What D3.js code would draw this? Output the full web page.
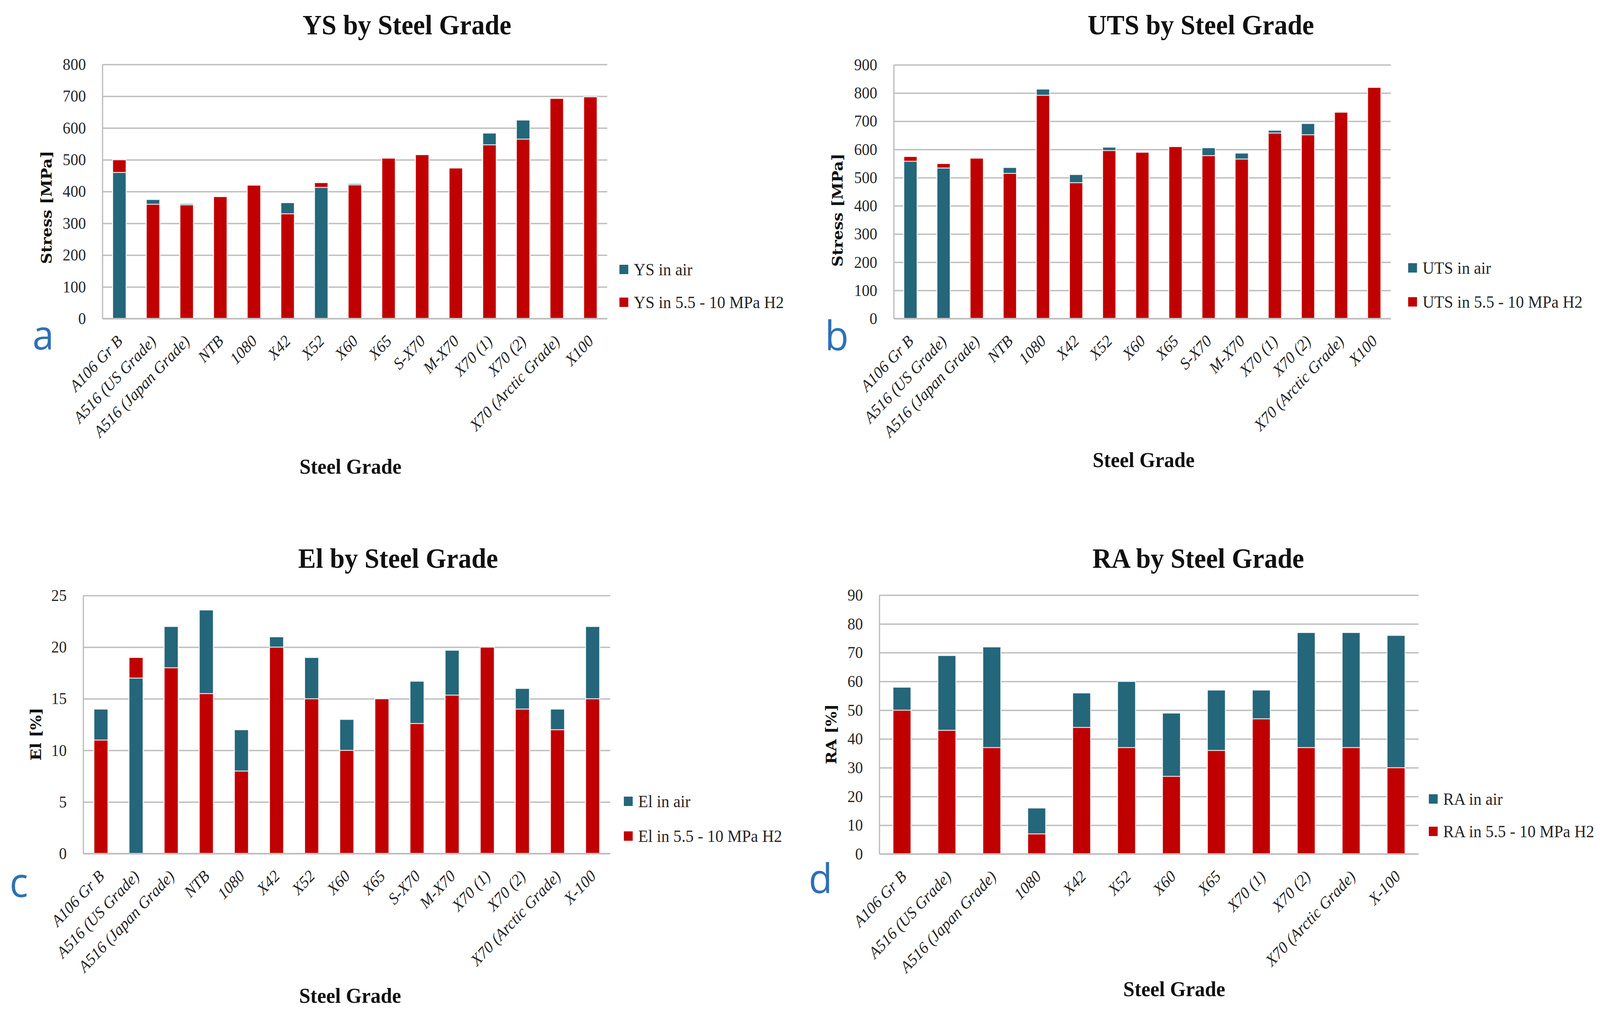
<!DOCTYPE html>
<html>
  <head>
    <meta charset="utf-8">
    <title>Steel grade properties</title>
    <script src="https://cdnjs.cloudflare.com/ajax/libs/d3/7.8.5/d3.min.js"></script>
    <style>
      html, body { margin: 0; padding: 0; background: #fff; overflow: hidden; }
      svg { display: block; }
    </style>
  </head>
  <body>
    <div id="chart"></div>
    <script type="text/javascript">
      // categories
      var gradesYS = ["A106 Gr B", "A516 (US Grade)", "A516 (Japan Grade)", "NTB", "1080", "X42", "X52", "X60", "X65", "S-X70", "M-X70", "X70 (1)", "X70 (2)", "X70 (Arctic Grade)", "X100"];
      var gradesEl = ["A106 Gr B", "A516 (US Grade)", "A516 (Japan Grade)", "NTB", "1080", "X42", "X52", "X60", "X65", "S-X70", "M-X70", "X70 (1)", "X70 (2)", "X70 (Arctic Grade)", "X-100"];
      var gradesRA = ["A106 Gr B", "A516 (US Grade)", "A516 (Japan Grade)", "1080", "X42", "X52", "X60", "X65", "X70 (1)", "X70 (2)", "X70 (Arctic Grade)", "X-100"];

      // values (null = no bar)
      var ysAir  = [460, 375, 362, null, null, 365, 413, 425, null, null, null, 584, 625, null, null];
      var ysH2   = [500, 360, 358, 384, 420, 330, 428, 421, 505, 516, 474, 547, 565, 693, 698];
      var utsAir = [558, 534, null, 536, 814, 511, 608, null, null, 606, 587, 668, 692, null, null];
      var utsH2  = [575, 550, 569, 515, 792, 482, 596, 590, 610, 578, 566, 658, 652, 732, 820];
      var elAir  = [14, 17, 22, 23.6, 12, 21, 19, 13, null, 16.7, 19.7, null, 16, 14, 22];
      var elH2   = [11, 19, 18, 15.5, 8, 20, 15, 10, 15, 12.6, 15.35, 20, 14, 12, 15];
      var raAir  = [58, 69, 72, 16, 56, 60, 49, 57, 57, 77, 77, 76];
      var raH2   = [50, 43, 37, 7, 44, 37, 27, 36, 47, 37, 37, 30];

      // tick labels
      var ysTicks  = [0, 100, 200, 300, 400, 500, 600, 700, 800];
      var utsTicks = [0, 100, 200, 300, 400, 500, 600, 700, 800, 900];
      var elTicks  = [0, 5, 10, 15, 20, 25];
      var raTicks  = [0, 10, 20, 30, 40, 50, 60, 70, 80, 90];

      var airColor = "#24667a";
      var h2Color = "#c00000";
      var gridColor = "#bfbfbf";
      var serif = "'Liberation Serif', 'Times New Roman', serif";

      // drawn in 4337x2589 units, stretched onto whatever the window gives
      var W = 4337, H = 2589;
      var vw = document.documentElement.clientWidth || window.innerWidth;
      var vh = document.documentElement.clientHeight || window.innerHeight;

      var svg = d3.select("#chart").append("svg")
        .attr("width", vw)
        .attr("height", vh)
        .attr("viewBox", "0 0 " + W + " " + H)
        .attr("preserveAspectRatio", "none");
      svg.append("rect").attr("width", W).attr("height", H).attr("fill", "#fff");

      function drawPanel(p) {
        var g = svg.append("g");

        var x = d3.scaleBand()
          .domain(p.cats)
          .range([p.left, p.right])
          .paddingInner(0.6)
          .paddingOuter(0.3);

        var y = d3.scaleLinear()
          .domain([0, p.ticks[p.ticks.length - 1]])
          .range([p.bottom, p.top]);

        // gridlines
        g.append("g")
          .attr("transform", "translate(" + p.left + ",0)")
          .call(d3.axisLeft(y).tickValues(p.ticks).tickSize(-(p.right - p.left)).tickFormat(""))
          .call(function(a) {
            a.select(".domain").remove();
            a.selectAll("line").attr("stroke", gridColor).attr("stroke-width", 3.5);
          });

        // left axis line
        g.append("line")
          .attr("x1", p.left).attr("x2", p.left)
          .attr("y1", y(p.ticks[p.ticks.length - 1])).attr("y2", y(0))
          .attr("stroke", gridColor).attr("stroke-width", 3.5);

        // tick labels
        g.append("g")
          .attr("transform", "translate(" + (p.left - 45) + ",0)")
          .call(d3.axisLeft(y).tickValues(p.ticks).tickSize(0).tickPadding(0))
          .call(function(a) {
            a.select(".domain").remove();
            a.attr("font-family", null).attr("font-size", null);
            a.selectAll("text")
              .style("font-family", serif)
              .style("font-size", "42px")
              .style("fill", "#262626");
          });

        // bars: the taller one behind, the shorter in front
        var rows = p.cats.map(function(c, i) {
          return { cat: c, air: p.air[i], h2: p.h2[i] };
        });
        rows.forEach(function(r) {
          var bars = [];
          if (r.air != null) bars.push({ v: r.air, c: airColor });
          if (r.h2 != null) bars.push({ v: r.h2, c: h2Color });
          bars.sort(function(a, b) { return b.v - a.v; });
          g.selectAll(null)
            .data(bars)
            .enter()
            .append("rect")
            .attr("x", x(r.cat))
            .attr("width", x.bandwidth())
            .attr("y", function(d) { return y(d.v); })
            .attr("height", function(d) { return y(0) - y(d.v); })
            .attr("fill", function(d) { return d.c; })
            .attr("stroke", "#ffffff")
            .attr("stroke-opacity", 0.85)
            .attr("stroke-width", 2.5);
        });

        // bottom axis line
        g.append("line")
          .attr("x1", p.left).attr("x2", p.right)
          .attr("y1", y(0)).attr("y2", y(0))
          .attr("stroke", gridColor).attr("stroke-width", 4);

        // category labels
        g.append("g")
          .attr("transform", "translate(0," + y(0) + ")")
          .call(d3.axisBottom(x).tickSize(0))
          .call(function(a) {
            a.select(".domain").remove();
            a.attr("font-family", null).attr("font-size", null);
            a.selectAll("text")
              .attr("x", null).attr("y", null).attr("dy", null)
              .attr("transform", "translate(" + (x.bandwidth() * 0.3) + ",60) rotate(-45)")
              .attr("text-anchor", "end")
              .style("font-family", serif)
              .style("font-style", "italic")
              .style("font-size", "42px")
              .style("fill", "#262626");
          });

        // title
        g.append("text")
          .attr("x", p.titleX).attr("y", p.titleY)
          .attr("text-anchor", "middle")
          .style("font-family", serif)
          .style("font-size", "72px")
          .style("font-weight", "bold")
          .style("fill", "#111")
          .text(p.title);

        // y axis title
        g.append("text")
          .attr("transform", "translate(" + p.yTitleX + "," + p.yTitleY + ") rotate(-90)")
          .attr("text-anchor", "middle")
          .attr("dominant-baseline", "central")
          .style("font-family", "'DejaVu Serif', serif")
          .style("font-weight", "bold")
          .style("font-size", "40px")
          .style("fill", "#111")
          .text(p.yTitle);

        // x axis title
        g.append("text")
          .attr("x", p.xTitleX).attr("y", p.xTitleY)
          .attr("text-anchor", "middle")
          .style("font-family", serif)
          .style("font-size", "55px")
          .style("font-weight", "bold")
          .style("fill", "#111")
          .text("Steel Grade");

        // legend
        var leg = g.selectAll(".leg")
          .data([{ t: p.legAir, c: airColor, cy: p.legY[0] }, { t: p.legH2, c: h2Color, cy: p.legY[1] }])
          .enter().append("g");
        leg.append("rect")
          .attr("x", p.legX).attr("y", function(d) { return d.cy - 12; })
          .attr("width", 24).attr("height", 24)
          .attr("fill", function(d) { return d.c; });
        leg.append("text")
          .attr("x", p.legX + 39).attr("y", function(d) { return d.cy + 15; })
          .style("font-family", serif)
          .style("font-size", "44px")
          .style("fill", "#262626")
          .text(function(d) { return d.t; });

        // panel letter
        g.append("text")
          .attr("x", p.letterX).attr("y", p.letterY)
          .style("font-family", "'Open Sans', sans-serif")
          .style("font-size", "105px")
          .style("fill", "#2e70b8")
          .text(p.letter);
      }

      drawPanel({
        cats: gradesYS, air: ysAir, h2: ysH2, ticks: ysTicks,
        left: 278, right: 1646, top: 165, bottom: 816,
        title: "YS by Steel Grade", titleX: 1103, titleY: 88,
        yTitle: "Stress [MPa]", yTitleX: 125, yTitleY: 531,
        xTitleX: 950, xTitleY: 1213,
        legAir: "YS in air", legH2: "YS in 5.5 - 10 MPa H2", legX: 1679, legY: [690, 774],
        letter: "a", letterX: 88, letterY: 895
      });

      drawPanel({
        cats: gradesYS, air: utsAir, h2: utsH2, ticks: utsTicks,
        left: 2423, right: 3770, top: 166, bottom: 816,
        title: "UTS by Steel Grade", titleX: 3255, titleY: 88,
        yTitle: "Stress [MPa]", yTitleX: 2269, yTitleY: 538,
        xTitleX: 3100, xTitleY: 1196,
        legAir: "UTS in air", legH2: "UTS in 5.5 - 10 MPa H2", legX: 3817, legY: [686, 773],
        letter: "b", letterX: 2236, letterY: 897
      });

      drawPanel({
        cats: gradesEl, air: elAir, h2: elH2, ticks: elTicks,
        left: 226, right: 1654, top: 1525, bottom: 2186,
        title: "El by Steel Grade", titleX: 1079, titleY: 1454,
        yTitle: "El [%]", yTitleX: 97, yTitleY: 1880,
        xTitleX: 949, xTitleY: 2568,
        legAir: "El in air", legH2: "El in 5.5 - 10 MPa H2", legX: 1691, legY: [2052, 2141],
        letter: "c", letterX: 26, letterY: 2297
      });

      drawPanel({
        cats: gradesRA, air: raAir, h2: raH2, ticks: raTicks,
        left: 2384, right: 3845, top: 1524, bottom: 2187,
        title: "RA by Steel Grade", titleX: 3248, titleY: 1454,
        yTitle: "RA [%]", yTitleX: 2253, yTitleY: 1880,
        xTitleX: 3183, xTitleY: 2551,
        legAir: "RA in air", legH2: "RA in 5.5 - 10 MPa H2", legX: 3873, legY: [2046, 2129],
        letter: "d", letterX: 2192, letterY: 2287
      });
    </script>
  </body>
</html>
